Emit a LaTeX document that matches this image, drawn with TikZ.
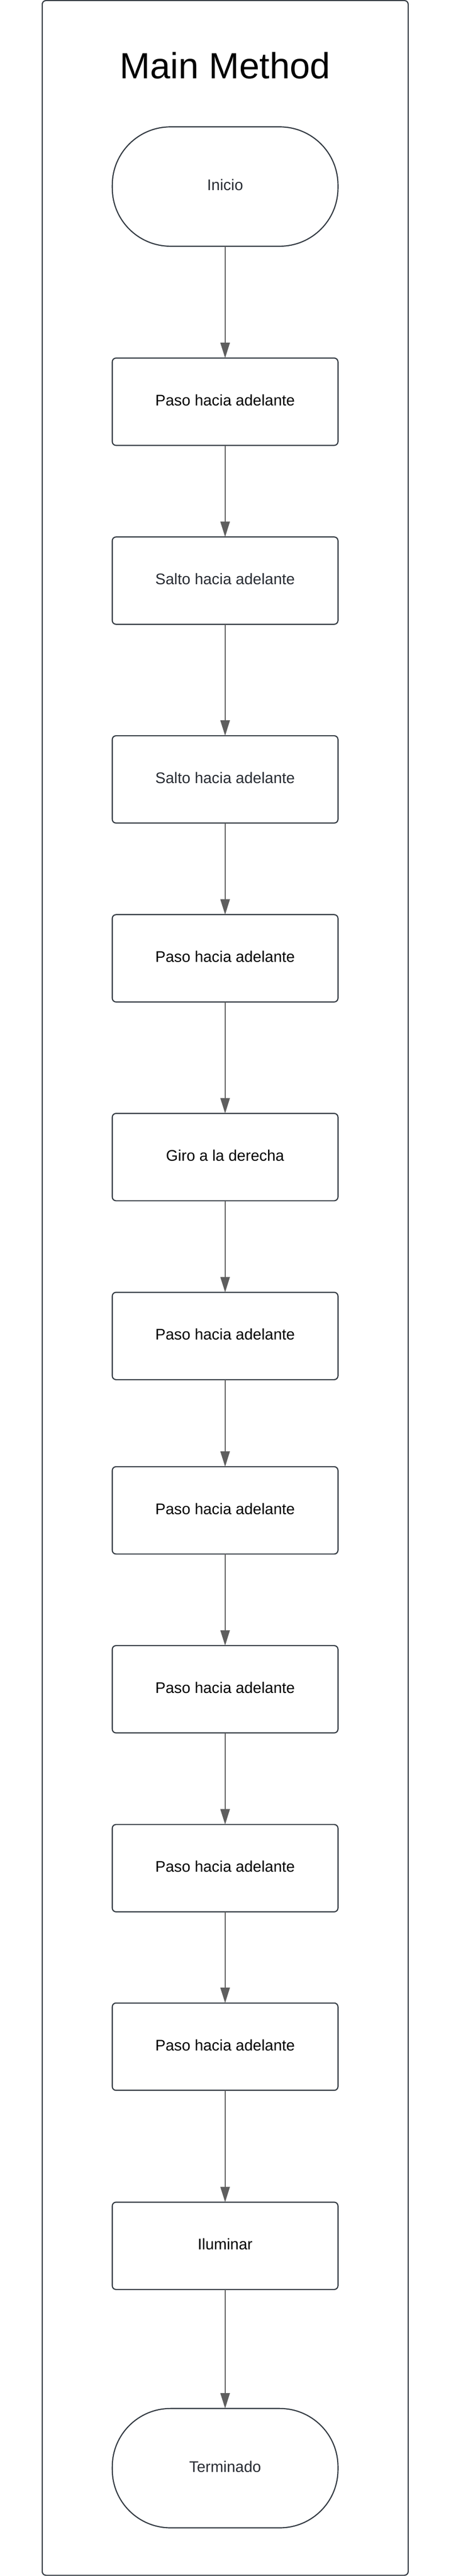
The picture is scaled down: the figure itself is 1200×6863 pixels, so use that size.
\documentclass[tikz,border=0pt]{standalone}
\usepackage{fontspec}
\setmainfont{Liberation Sans}
\usetikzlibrary{positioning, arrows.meta}
\definecolor{edgegray}{HTML}{5E5E5E}
\definecolor{shapeline}{HTML}{333A42}
\definecolor{softtext}{HTML}{282C33}
\tikzset{
        >={Triangle[length=41pt, width=25pt]}, % big filled arrow heads
        flow/.style={->, draw=edgegray, fill=edgegray, line width=3pt}, % connectors
        step box/.style={
		draw=shapeline,
		line width=3pt,
		rounded corners=10pt,
		minimum width=601pt,
		minimum height=232.6pt,
		inner sep=0pt,
		outer sep=0pt,
		text height=30pt,
		text depth=9pt,
		font=\fontsize{41}{49}\selectfont,
	  },
  		start stop/.style={
    	step box,
    	rounded corners=155pt,
    	minimum height=318pt,
    	text=softtext,
      }
  	}

\begin{document}
\begin{tikzpicture}[x=1pt, y=1pt, node distance=244pt]
    \useasboundingbox (0,0) rectangle (1200,-6863);
    \draw [draw=shapeline, line width=3pt, rounded corners=10pt] (112.5,-1.5) rectangle (1087,-6861);
    \node [anchor=base, font=\fontsize{97}{116}\selectfont] (title) at (599.5,-209) {Main Method};
    \node [start stop] (inicio) at (599.5,-497) {Inicio};
    \node [step box, below=298pt of inicio] (paso1) {Paso hacia adelante};
    \node [step box, below=of paso1, text=softtext] (salto1) {Salto hacia adelante};
    \node [step box, below=297pt of salto1, text=softtext] (salto2) {Salto hacia adelante};
    \node [step box, below=of salto2] (paso2) {Paso hacia adelante};
    \node [step box, below=297pt of paso2] (giro) {Giro a la derecha};
    \node [step box, below=of giro] (paso3) {Paso hacia adelante};
    \node [step box, below=232pt of paso3] (paso4) {Paso hacia adelante};
    \node [step box, below=of paso4] (paso5) {Paso hacia adelante};
    \node [step box, below=of paso5] (paso6) {Paso hacia adelante};
    \node [step box, below=243pt of paso6] (paso7) {Paso hacia adelante};
    \node [step box, below=298pt of paso7] (iluminar) {Iluminar};
    \node [start stop, below=317pt of iluminar] (fin) {Terminado};

    \draw [flow] (inicio) -- (paso1);
    \draw [flow] (paso1) -- (salto1);
    \draw [flow] (salto1) -- (salto2);
    \draw [flow] (salto2) -- (paso2);
    \draw [flow] (paso2) -- (giro);
    \draw [flow] (giro) -- (paso3);
    \draw [flow] (paso3) -- (paso4);
    \draw [flow] (paso4) -- (paso5);
    \draw [flow] (paso5) -- (paso6);
    \draw [flow] (paso6) -- (paso7);
    \draw [flow] (paso7) -- (iluminar);
    \draw [flow] (iluminar) -- (fin);
\end{tikzpicture}
\end{document}
